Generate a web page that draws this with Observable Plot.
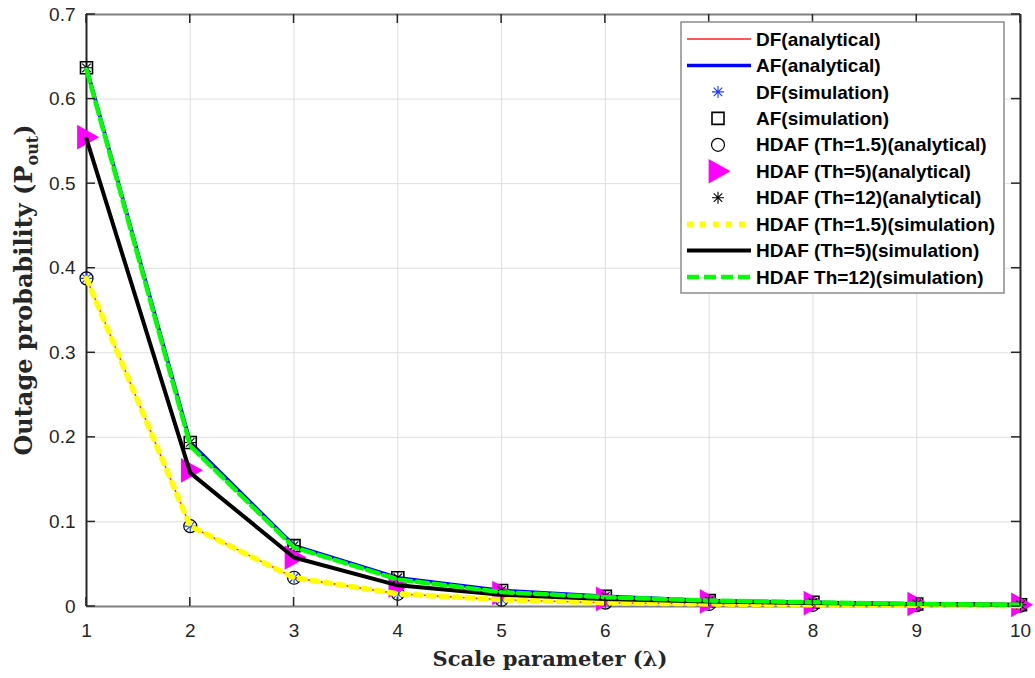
<!DOCTYPE html>
<html>
<head>
<meta charset="utf-8">
<script src="https://cdn.jsdelivr.net/npm/d3@7"></script>
<script src="https://cdn.jsdelivr.net/npm/@observablehq/plot@0.6"></script>
<style>
  body { margin: 0; background: #fff; }
  #chart svg { display: block; }
</style>
</head>
<body>
<div id="chart"></div>
<script>
// Outage probability versus scale parameter for DF, AF and hybrid (HDAF) relaying
const lambda = [1, 2, 3, 4, 5, 6, 7, 8, 9, 10];

const dfAnalytical   = [0.388, 0.095, 0.034, 0.015, 0.008, 0.0045, 0.003, 0.002, 0.0015, 0.001];
const afAnalytical   = [0.637, 0.194, 0.072, 0.034, 0.019, 0.012, 0.007, 0.005, 0.003, 0.002];
const dfSimulation   = [0.388, 0.095, 0.034, 0.015, 0.008, 0.0045, 0.003, 0.002, 0.0015, 0.001];
const afSimulation   = [0.637, 0.194, 0.072, 0.034, 0.019, 0.012, 0.007, 0.005, 0.003, 0.002];
const hdaf15Analytic = [0.388, 0.095, 0.034, 0.015, 0.008, 0.0045, 0.003, 0.002, 0.0015, 0.001];
const hdaf5Analytic  = [0.555, 0.161, 0.058, 0.025, 0.016, 0.009, 0.006, 0.004, 0.003, 0.002];
const hdaf12Analytic = [0.637, 0.194, 0.072, 0.034, 0.019, 0.012, 0.007, 0.005, 0.003, 0.002];
const hdaf15Sim      = [0.388, 0.095, 0.034, 0.015, 0.008, 0.0045, 0.003, 0.002, 0.0015, 0.001];
const hdaf5Sim       = [0.553, 0.158, 0.058, 0.025, 0.014, 0.009, 0.006, 0.004, 0.003, 0.002];
const hdaf12Sim      = [0.635, 0.190, 0.070, 0.032, 0.017, 0.011, 0.007, 0.005, 0.003, 0.002];

const legendLabels = [
  "DF(analytical)", "AF(analytical)", "DF(simulation)", "AF(simulation)",
  "HDAF (Th=1.5)(analytical)", "HDAF (Th=5)(analytical)", "HDAF (Th=12)(analytical)",
  "HDAF (Th=1.5)(simulation)", "HDAF (Th=5)(simulation)", "HDAF Th=12)(simulation)"
];

const xTicks = [1, 2, 3, 4, 5, 6, 7, 8, 9, 10];
const yTicks = [0, 0.1, 0.2, 0.3, 0.4, 0.5, 0.6, 0.7];
const yTickLabels = ["0", "0.1", "0.2", "0.3", "0.4", "0.5", "0.6", "0.7"];

const rows = (ys) => lambda.map((x, i) => ({x, y: ys[i]}));

// Marker shapes; Plot passes the area π·r², so r is recovered as the half-size.
const half = (size) => Math.sqrt(size / Math.PI);
const asterisk8 = {draw(ctx, size) {
  const r = half(size), d = r * Math.SQRT1_2;
  ctx.moveTo(-r, 0); ctx.lineTo(r, 0);
  ctx.moveTo(0, -r); ctx.lineTo(0, r);
  ctx.moveTo(-d, -d); ctx.lineTo(d, d);
  ctx.moveTo(-d, d); ctx.lineTo(d, -d);
}};
const squareSym = {draw(ctx, size) {
  const r = half(size);
  ctx.moveTo(-r, -r); ctx.lineTo(r, -r); ctx.lineTo(r, r); ctx.lineTo(-r, r); ctx.closePath();
}};
const circleSym = {draw(ctx, size) {
  const r = half(size);
  ctx.moveTo(r, 0); ctx.arc(0, 0, r, 0, 2 * Math.PI);
}};
const triRight = {draw(ctx, size) {
  const r = half(size);
  ctx.moveTo(-0.85 * r, -1.12 * r); ctx.lineTo(1.15 * r, 0); ctx.lineTo(-0.85 * r, 1.12 * r); ctx.closePath();
}};

const styles = {
  dfLine:   {stroke: "#ff1f1f", strokeWidth: 1.4},
  afLine:   {stroke: "#0000ff", strokeWidth: 3.6},
  dfSim:    {symbol: asterisk8, r: 6, stroke: "#1a3cff", strokeWidth: 1.1, fill: "none"},
  afSim:    {symbol: squareSym, r: 6, stroke: "#000", strokeWidth: 1.6, fill: "none"},
  c15:      {symbol: circleSym, r: 6.5, stroke: "#000", strokeWidth: 1.2, fill: "none"},
  t5:       {symbol: triRight, r: 11, fill: "#ff00ff", stroke: "none"},
  s12:      {symbol: asterisk8, r: 6, stroke: "#000", strokeWidth: 1.1, fill: "none"},
  y15:      {stroke: "#ffff00", strokeWidth: 5.5, strokeDasharray: "6,7"},
  k5:       {stroke: "#000", strokeWidth: 4},
  g12:      {stroke: "#00ff00", strokeWidth: 4.5, strokeDasharray: "12,5"}
};

const chart = Plot.plot({
  width: 1035,
  height: 678,
  marginLeft: 86,
  marginRight: 15,
  marginTop: 14,
  marginBottom: 72,
  style: {fontFamily: "'Liberation Sans', Arial, sans-serif", fontSize: "19px", color: "#262626", background: "#fff"},
  x: {domain: [1, 10]},
  y: {domain: [0, 0.7]},
  marks: [
    Plot.gridX(xTicks, {stroke: "#dedede", strokeOpacity: 1, strokeWidth: 1}),
    Plot.gridY(yTicks, {stroke: "#dedede", strokeOpacity: 1, strokeWidth: 1}),
    Plot.ruleY([0, 0.7], {stroke: "#808080", strokeWidth: 2}),
    Plot.ruleX([1, 10], {stroke: "#262626", strokeWidth: 2}),
    Plot.line(rows(dfAnalytical), {x: "x", y: "y", ...styles.dfLine}),
    Plot.line(rows(afAnalytical), {x: "x", y: "y", ...styles.afLine}),
    Plot.dot(rows(dfSimulation), {x: "x", y: "y", ...styles.dfSim}),
    Plot.dot(rows(afSimulation), {x: "x", y: "y", ...styles.afSim}),
    Plot.dot(rows(hdaf15Analytic), {x: "x", y: "y", ...styles.c15}),
    Plot.dot(rows(hdaf5Analytic), {x: "x", y: "y", ...styles.t5}),
    Plot.dot(rows(hdaf12Analytic), {x: "x", y: "y", ...styles.s12}),
    Plot.line(rows(hdaf15Sim), {x: "x", y: "y", ...styles.y15}),
    Plot.line(rows(hdaf5Sim), {x: "x", y: "y", ...styles.k5}),
    Plot.line(rows(hdaf12Sim), {x: "x", y: "y", ...styles.g12}),
    Plot.axisX(xTicks, {tickSize: 0, tickPadding: 17, label: null, fill: "#262626", fontSize: 19}),
    Plot.axisY(yTicks, {tickSize: 0, tickPadding: 11, label: null, fill: "#262626", fontSize: 19,
      tickFormat: (d) => yTickLabels[yTicks.indexOf(d)]})
  ]
});

document.getElementById("chart").appendChild(chart);

const svg = d3.select(chart);
const xs = chart.scale("x"), ys = chart.scale("y");
const frameLeft = xs.apply(1), frameRight = xs.apply(10);
const frameBottom = ys.apply(0), frameTop = ys.apply(0.7);

// Inward tick marks on all four sides
const tickLen = 9;
const ticks = svg.append("g").attr("stroke", "#262626").attr("stroke-width", 1.5);
xTicks.forEach((v) => {
  const px = xs.apply(v);
  ticks.append("line").attr("x1", px).attr("x2", px).attr("y1", frameBottom).attr("y2", frameBottom - tickLen);
  ticks.append("line").attr("x1", px).attr("x2", px).attr("y1", frameTop).attr("y2", frameTop + tickLen);
});
yTicks.forEach((v) => {
  const py = ys.apply(v);
  ticks.append("line").attr("x1", frameLeft).attr("x2", frameLeft + tickLen).attr("y1", py).attr("y2", py);
  ticks.append("line").attr("x1", frameRight).attr("x2", frameRight - tickLen).attr("y1", py).attr("y2", py);
});

// Axis titles
const titleFont = "'DejaVu Serif', serif";
svg.append("text")
  .attr("x", (frameLeft + frameRight) / 2 - 3).attr("y", 666)
  .attr("text-anchor", "middle")
  .attr("font-family", titleFont).attr("font-weight", "bold").attr("font-size", 21)
  .attr("fill", "#262626")
  .text("Scale parameter (λ)");

const yt = svg.append("text")
  .attr("transform", `translate(32, 290) rotate(-90)`)
  .attr("text-anchor", "middle")
  .attr("font-family", titleFont).attr("font-weight", "bold").attr("font-size", 24)
  .attr("fill", "#262626");
yt.append("tspan").text("Outage probability (P");
yt.append("tspan").attr("font-size", 16).attr("dy", 6).text("out");
yt.append("tspan").attr("dy", -6).text(")");

// Legend box in the upper right
const lg = svg.append("g").attr("text-anchor", "start");
const lx = 681, ly = 22, lw = 323, lh = 271;
lg.append("rect").attr("x", lx).attr("y", ly).attr("width", lw).attr("height", lh)
  .attr("fill", "#fff").attr("stroke", "#8c8c8c").attr("stroke-width", 1.5);

const entries = [
  {kind: "line", s: styles.dfLine},
  {kind: "line", s: styles.afLine},
  {kind: "dot", s: styles.dfSim},
  {kind: "dot", s: styles.afSim},
  {kind: "dot", s: styles.c15},
  {kind: "dot", s: styles.t5},
  {kind: "dot", s: styles.s12},
  {kind: "line", s: styles.y15},
  {kind: "line", s: styles.k5},
  {kind: "line", s: styles.g12}
];
entries.forEach((e, i) => {
  const cy = 39 + i * 26.45;
  if (e.kind === "line") {
    lg.append("line").attr("x1", 687).attr("x2", 751).attr("y1", cy).attr("y2", cy)
      .attr("stroke", e.s.stroke).attr("stroke-width", e.s.strokeWidth)
      .attr("stroke-dasharray", e.s.strokeDasharray || null);
  } else {
    const r = e.s.r;
    lg.append("path")
      .attr("transform", `translate(718, ${cy})`)
      .attr("d", d3.symbol(e.s.symbol, r * r * Math.PI)())
      .attr("fill", e.s.fill).attr("stroke", e.s.stroke)
      .attr("stroke-width", e.s.strokeWidth || null);
  }
  lg.append("text").attr("x", 756).attr("y", cy).attr("dy", "0.35em")
    .attr("text-anchor", "start")
    .attr("font-family", "'Liberation Sans', Arial, sans-serif")
    .attr("font-weight", "bold").attr("font-size", 19).attr("fill", "#000")
    .text(legendLabels[i]);
});
</script>
</body>
</html>
